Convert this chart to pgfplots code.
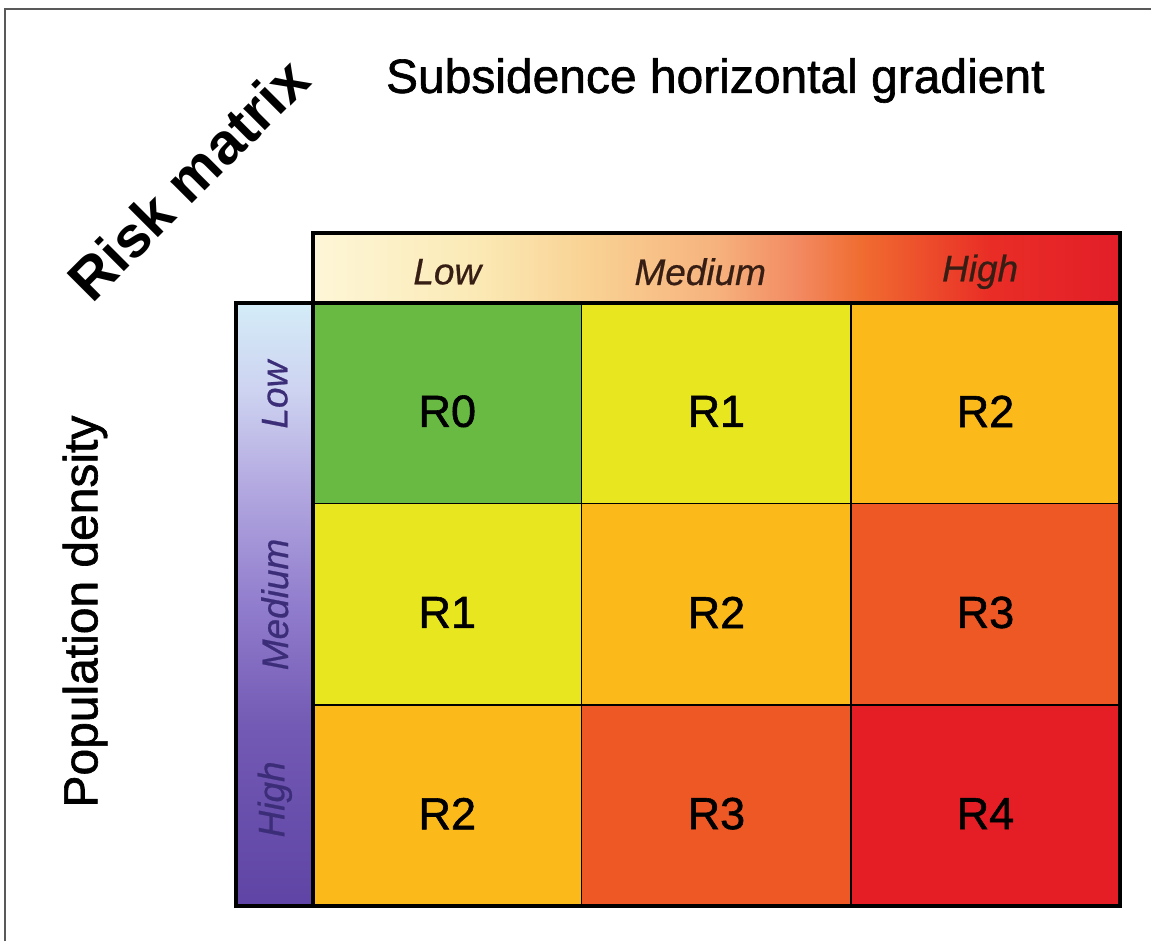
\documentclass[border=0pt]{standalone}
\usepackage{pgfplots}
\pgfplotsset{compat=1.18}
\usepackage{pgfplotstable}
\usepackage{fontspec}
\setmainfont{Liberation Sans}
\newfontfamily\heavy[FakeBold=1.3]{Liberation Sans}
\newfontfamily\heavyit[FakeBold=0.6]{Liberation Sans Italic}

\definecolor{rzero}{RGB}{104,186,67}
\definecolor{rone}{RGB}{232,230,30}
\definecolor{rtwo}{RGB}{252,186,26}
\definecolor{rthree}{RGB}{238,88,36}
\definecolor{rfour}{RGB}{229,30,38}

\definecolor{hA}{RGB}{253,246,215}
\definecolor{hB}{RGB}{251,234,182}
\definecolor{hC}{RGB}{249,210,148}
\definecolor{hD}{RGB}{246,178,125}
\definecolor{hE}{RGB}{242,138,98}
\definecolor{hF}{RGB}{240,108,48}
\definecolor{hG}{RGB}{233,45,38}
\definecolor{hH}{RGB}{226,30,40}
\pgfdeclarehorizontalshading{hdr}{100bp}{color(0bp)=(hA); color(25bp)=(hA); color(35bp)=(hB); color(42bp)=(hC); color(50bp)=(hD); color(55bp)=(hE); color(59bp)=(hF); color(67bp)=(hG); color(75bp)=(hH); color(100bp)=(hH)}

\definecolor{sA}{RGB}{95,68,165}
\definecolor{sB}{RGB}{115,90,180}
\definecolor{sC}{RGB}{145,125,205}
\definecolor{sD}{RGB}{180,170,225}
\definecolor{sE}{RGB}{205,210,240}
\definecolor{sF}{RGB}{212,236,248}
\pgfdeclareverticalshading{side}{100bp}{color(0bp)=(sA); color(25bp)=(sA); color(40bp)=(sB); color(50bp)=(sC); color(60bp)=(sD); color(67.5bp)=(sE); color(75bp)=(sF); color(100bp)=(sF)}

\definecolor{hdrtext}{RGB}{55,30,20}
\definecolor{sidetext}{RGB}{60,45,120}

% risk matrix: column (gradient), row (population density), level index, label
\pgfplotstableread{
x   y   level label
0.5 2.5 0 R0
1.5 2.5 1 R1
2.5 2.5 2 R2
0.5 1.5 1 R1
1.5 1.5 2 R2
2.5 1.5 3 R3
0.5 0.5 2 R2
1.5 0.5 3 R3
2.5 0.5 4 R4
}\cells

\begin{document}
\begin{tikzpicture}
\begin{axis}[
  scale only axis,
  width=576pt, height=471pt,
  xmin=-1.1622, xmax=3.1151,
  ymin=-0.1738, ymax=4.505,
  hide axis,
  clip=false,
  colormap={risk}{rgb255=(104,186,67) rgb255=(232,230,30) rgb255=(252,186,26) rgb255=(238,88,36) rgb255=(229,30,38)},
]
\path (rel axis cs:0,0) rectangle (rel axis cs:1,1);
% outer frame (left and top visible)
\draw[line width=1pt, gray!70!black] (axis cs:-1.1436,-0.1738) -- (axis cs:-1.1436,4.4603) -- (axis cs:3.1151,4.4603);

% cells
\addplot[matrix plot*, mesh/cols=3, point meta=explicit, colormap access=direct, draw=none]
  table[x=x, y=y, meta=level] {\cells};

% grid lines
\draw[line width=0.6pt] (axis cs:1,0) -- (axis cs:1,3);
\draw[line width=0.6pt] (axis cs:2,0) -- (axis cs:2,3);
\draw[line width=0.6pt] (axis cs:0,1) -- (axis cs:3,1);
\draw[line width=0.6pt] (axis cs:0,2) -- (axis cs:3,2);

% header bar and side bar
\path[shading=hdr] (axis cs:0,3) rectangle (axis cs:3,3.348);
\draw[line width=2pt] (axis cs:0,3) rectangle (axis cs:3,3.348);
\path[shading=side] (axis cs:-0.286,0) rectangle (axis cs:0,3);
\draw[line width=2pt] (axis cs:-0.286,0) rectangle (axis cs:0,3);
\draw[line width=2pt] (axis cs:0,0) rectangle (axis cs:3,3);

% cell labels
\addplot[draw=none, mark=none, nodes near coords, point meta=explicit symbolic,
  nodes near coords align={center},
  every node near coord/.append style={font=\heavy\fontsize{22.5}{26}\selectfont, text=black, anchor=center, yshift=-4pt}]
  table[x=x, y=y, meta=label] {\cells};

% header labels
\node[font=\heavyit\fontsize{18.5}{22}\selectfont, text=hdrtext] at (axis cs:0.50,3.154) {Low};
\node[font=\heavyit\fontsize{18.5}{22}\selectfont, text=hdrtext] at (axis cs:1.44,3.154) {Medium};
\node[font=\heavyit\fontsize{18.5}{22}\selectfont, text=hdrtext] at (axis cs:2.48,3.154) {High};
\node[font=\heavyit\fontsize{18.5}{22}\selectfont, text=sidetext, rotate=90] at (axis cs:-0.141,2.543) {Low};
\node[font=\heavyit\fontsize{18.5}{22}\selectfont, text=sidetext, rotate=90] at (axis cs:-0.141,1.50) {Medium};
\node[font=\heavyit\fontsize{18.5}{22}\selectfont, text=sidetext, rotate=90] at (axis cs:-0.141,0.531) {High};

% titles
\node[font=\heavy\fontsize{24}{28}\selectfont] at (axis cs:1.496,4.105) {Subsidence horizontal gradient};
\node[font=\heavy\fontsize{24}{28}\selectfont, rotate=90] at (axis cs:-0.8466,1.465) {Population density};
\node[font=\fontsize{29}{33}\bfseries, rotate=45] at (axis cs:-0.464,3.615) {Risk matrix};
\end{axis}
\end{tikzpicture}
\end{document}
